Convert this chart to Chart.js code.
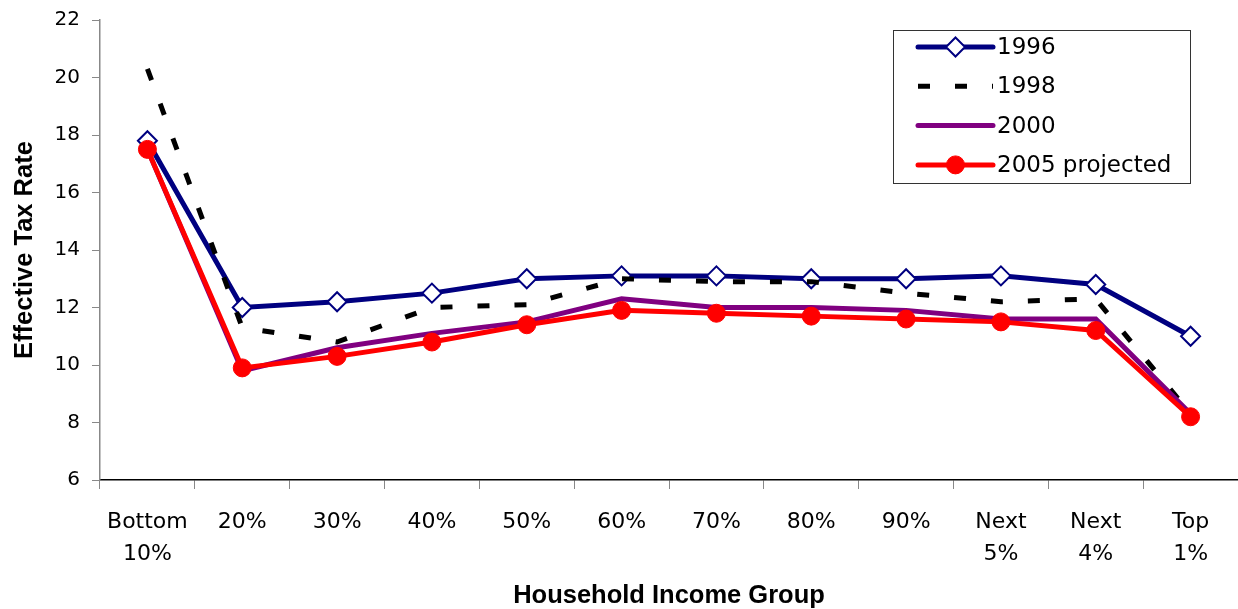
<!DOCTYPE html>
<html>
<head>
<meta charset="utf-8">
<script src="https://cdn.jsdelivr.net/npm/chart.js@4/dist/chart.umd.min.js"></script>
<style>
  html, body { margin: 0; padding: 0; background: #fff; overflow: hidden; }
  #wrap { width: 1238px; height: 609px; }
  canvas { display: block; }
</style>
</head>
<body>
<div id="wrap"><canvas id="chart"></canvas></div>
<script>
// household income groups along the x axis
var groups = [['Bottom', '10%'], '20%', '30%', '40%', '50%', '60%', '70%', '80%', '90%',
              ['Next', '5%'], ['Next', '4%'], ['Top', '1%']];

// effective tax rate
var rate1996 = [17.8, 12.0, 12.2, 12.5, 13.0, 13.1, 13.1, 13.0, 13.0, 13.1, 12.8, 11.0];
var rate1998 = [20.3, 11.3, 10.8, 12.0, 12.1, 13.0, 12.9, 12.9, 12.5, 12.2, 12.3, 8.3];
var rate2000 = [17.5, 9.8, 10.6, 11.1, 11.5, 12.3, 12.0, 12.0, 11.9, 11.6, 11.6, 8.3];
var rate2005 = [17.5, 9.9, 10.3, 10.8, 11.4, 11.9, 11.8, 11.7, 11.6, 11.5, 11.2, 8.2];

var yTicks = [6, 8, 10, 12, 14, 16, 18, 20, 22];

var FONT = '"DejaVu Sans", Verdana, sans-serif';
var TITLE_FONT = '"Liberation Sans", Arial, sans-serif';

// legend drawn inside the plot, excel style: line sample with marker in the middle
var boxLegend = {
    id: 'boxLegend',
    afterDatasetsDraw: function(chart) {
        var ctx = chart.ctx;
        var x0 = 893, y0 = 30, w = 297, h = 153;
        ctx.save();
        ctx.fillStyle = '#fff';
        ctx.fillRect(x0, y0, w, h);
        ctx.strokeStyle = '#333';
        ctx.lineWidth = 1;
        ctx.strokeRect(x0 + 0.5, y0 + 0.5, w, h);

        chart.data.datasets.forEach(function(ds, i) {
            var y = 47 + i * 39.3;
            var xa = 918, xb = 993, cx = (xa + xb) / 2;
            ctx.strokeStyle = ds.borderColor;
            ctx.lineWidth = ds.borderWidth;
            ctx.lineCap = ds.borderDash ? 'butt' : 'round';
            ctx.setLineDash(ds.borderDash || []);
            ctx.beginPath();
            ctx.moveTo(xa, y);
            ctx.lineTo(xb, y);
            ctx.stroke();
            ctx.setLineDash([]);
            if (ds.pointRadius > 0) {
                var r = ds.pointRadius;
                ctx.fillStyle = ds.pointBackgroundColor;
                ctx.strokeStyle = ds.pointBorderColor;
                ctx.lineWidth = ds.pointBorderWidth;
                ctx.beginPath();
                if (ds.pointStyle === 'rectRot') {
                    ctx.moveTo(cx, y - r);
                    ctx.lineTo(cx + r, y);
                    ctx.lineTo(cx, y + r);
                    ctx.lineTo(cx - r, y);
                    ctx.closePath();
                } else {
                    ctx.arc(cx, y, r, 0, Math.PI * 2);
                }
                ctx.fill();
                ctx.stroke();
            }
            ctx.fillStyle = '#000';
            ctx.font = '23px ' + FONT;
            ctx.textBaseline = 'middle';
            ctx.textAlign = 'left';
            ctx.fillText(ds.label, 997, y + 1);
        });
        ctx.restore();
    }
};

var ctx = document.getElementById('chart').getContext('2d');
var chart = new Chart(ctx, {
    type: 'line',
    data: {
        labels: groups,
        datasets: [
            {
                label: '1996',
                data: rate1996,
                borderColor: '#000080',
                borderWidth: 5,
                pointStyle: 'rectRot',
                pointRadius: 9.5,
                pointBackgroundColor: '#ffffff',
                pointBorderColor: '#000080',
                pointBorderWidth: 2,
                order: 4
            },
            {
                label: '1998',
                data: rate1998,
                borderColor: '#000000',
                borderWidth: 5,
                borderDash: [12, 25],
                pointRadius: 0,
                order: 3
            },
            {
                label: '2000',
                data: rate2000,
                borderColor: '#800080',
                borderWidth: 5,
                pointRadius: 0,
                order: 2
            },
            {
                label: '2005 projected',
                data: rate2005,
                borderColor: '#ff0000',
                borderWidth: 5,
                pointStyle: 'circle',
                pointRadius: 9,
                pointBackgroundColor: '#ff0000',
                pointBorderColor: '#ff0000',
                pointBorderWidth: 1,
                order: 1
            }
        ]
    },
    options: {
        responsive: true,
        maintainAspectRatio: false,
        animation: false,
        layout: { autoPadding: false, padding: { top: 20, right: -5, left: 0, bottom: 0 } },
        plugins: {
            legend: { display: false },
            tooltip: { enabled: false }
        },
        scales: {
            x: {
                offset: true,
                grid: {
                    offset: true,
                    drawOnChartArea: false,
                    tickLength: 9,
                    color: '#888'
                },
                border: { color: '#000', width: 1.5 },
                ticks: {
                    color: '#000',
                    font: { family: FONT, size: 22, lineHeight: 1.45 },
                    padding: 17,
                    maxRotation: 0,
                    autoSkip: false
                },
                title: {
                    display: true,
                    text: 'Household Income Group',
                    color: '#000',
                    font: { family: TITLE_FONT, size: 25.5, weight: 'bold', lineHeight: 1 },
                    padding: { top: 0, bottom: 0 }
                },
                afterFit: function(scale) {
                    scale.height = 129;
                    scale.paddingLeft = 0;
                    scale.paddingRight = 0;
                }
            },
            y: {
                min: 6,
                max: 22,
                afterBuildTicks: function(scale) {
                    scale.ticks = yTicks.map(function(v) { return { value: v }; });
                },
                grid: {
                    drawOnChartArea: false,
                    tickLength: 8,
                    color: '#888'
                },
                border: { color: '#888', width: 1.5 },
                ticks: {
                    color: '#000',
                    font: { family: FONT, size: 20 },
                    padding: 12
                },
                title: {
                    display: true,
                    text: 'Effective Tax Rate',
                    color: '#000',
                    font: { family: TITLE_FONT, size: 25.5, weight: 'bold', lineHeight: 1 },
                    padding: { top: 12, bottom: 4 }
                },
                afterFit: function(scale) {
                    scale.width = 100;
                    scale.paddingTop = 0;
                    scale.paddingBottom = 0;
                }
            }
        }
    },
    plugins: [boxLegend]
});
</script>
</body>
</html>
